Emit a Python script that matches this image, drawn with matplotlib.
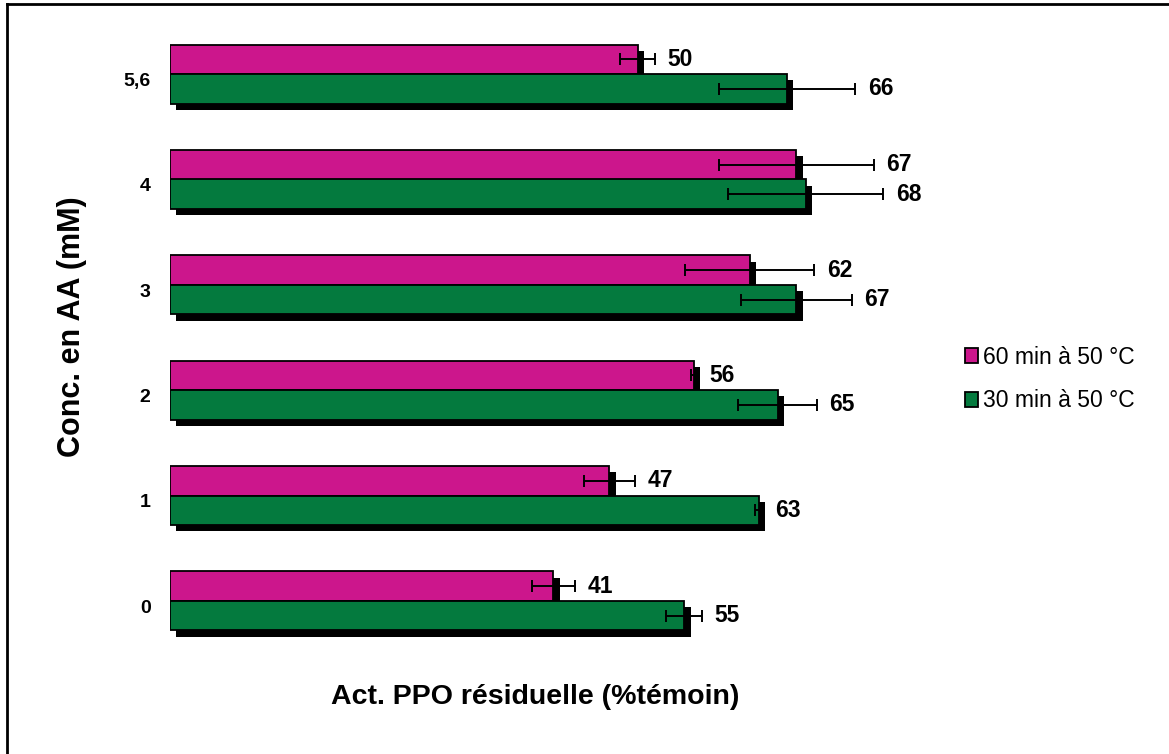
import matplotlib
matplotlib.use("Agg")
import matplotlib.pyplot as plt
import matplotlib.patheffects as pe
from matplotlib.patches import Patch
from matplotlib.lines import Line2D
import numpy as np

plt.rcParams['font.family'] = ['Liberation Sans', 'DejaVu Sans']

categories = ["0", "1", "2", "3", "4", "5,6"]
vals_60 = [41, 47, 56, 62, 67, 50]
err_60 = [2.3, 2.7, 0.3, 6.9, 8.3, 1.9]
vals_30 = [55, 63, 65, 67, 68, 66]
err_30 = [1.9, 0.4, 4.2, 5.9, 8.3, 7.3]
series_labels = ["60 min à 50 °C", "30 min à 50 °C"]
xlabel = "Act. PPO résiduelle (%témoin)"
ylabel = "Conc. en AA (mM)"

c60 = "#CC168C"
c30 = "#047A3E"

W, H = 1169, 754
fig = plt.figure(figsize=(W / 100, H / 100), dpi=100)
ax = fig.add_axes([170 / W, 1 - 653.5 / H, 841.5 / W, (653.5 - 21.5) / H])

y = np.arange(len(categories))
bh = 0.28
shadow = [pe.SimplePatchShadow(offset=(4.5, -4.5), shadow_rgbFace='black', alpha=1.0), pe.Normal()]

b60 = ax.barh(y + bh / 2, vals_60, height=bh, color=c60, edgecolor='black', linewidth=1.3, zorder=2)
for p in b60:
    p.set_path_effects(shadow)
b30 = ax.barh(y - bh / 2, vals_30, height=bh, color=c30, edgecolor='black', linewidth=1.3, zorder=3)
for p in b30:
    p.set_path_effects(shadow)

ax.errorbar(vals_60, y + bh / 2, xerr=err_60, fmt='none', ecolor='black', elinewidth=1.4,
            capsize=4, capthick=1.4, zorder=5)
ax.errorbar(vals_30, y - bh / 2, xerr=err_30, fmt='none', ecolor='black', elinewidth=1.4,
            capsize=4, capthick=1.4, zorder=5)

for v, e, yy in zip(vals_60, err_60, y + bh / 2):
    ax.annotate(f"{v}", (v + e, yy), xytext=(9, 0), textcoords='offset points',
                ha='left', va='center', fontsize=16.5, fontweight='bold', zorder=6)
for v, e, yy in zip(vals_30, err_30, y - bh / 2):
    ax.annotate(f"{v}", (v + e, yy), xytext=(9, 0), textcoords='offset points',
                ha='left', va='center', fontsize=16.5, fontweight='bold', zorder=6)

ax.set_xlim(0, 90)
ax.set_ylim(-0.5, len(categories) - 0.5)
ax.set_yticks(y - 0.05)
ax.set_yticklabels(categories, fontsize=14, fontweight='bold')
ax.tick_params(axis='y', length=0, pad=14)
ax.set_xticks([])
for s in ax.spines.values():
    s.set_visible(False)

fig.text(72 / W, 1 - 327 / H, ylabel, rotation=90, ha='center', va='center',
         fontsize=22, fontweight='bold')
fig.text(535 / W, 1 - 697 / H, xlabel, ha='center', va='center',
         fontsize=20.5, fontweight='bold')

handles = [Patch(facecolor=c60, edgecolor='black', linewidth=1.3),
           Patch(facecolor=c30, edgecolor='black', linewidth=1.3)]
fig.legend(handles, series_labels, loc='center left', bbox_to_anchor=(944 / W, 1 - 379 / H),
           frameon=False, fontsize=16.5, handlelength=0.6, handleheight=0.6,
           handletextpad=0.2, labelspacing=0.9)

# figure border (top and left)
fig.add_artist(Line2D([7 / W, 7 / W], [0, 1 - 4 / H], transform=fig.transFigure, color='black', lw=2))
fig.add_artist(Line2D([7 / W, 1], [1 - 4 / H, 1 - 4 / H], transform=fig.transFigure, color='black', lw=2))

fig.savefig("out.png", dpi=100)
